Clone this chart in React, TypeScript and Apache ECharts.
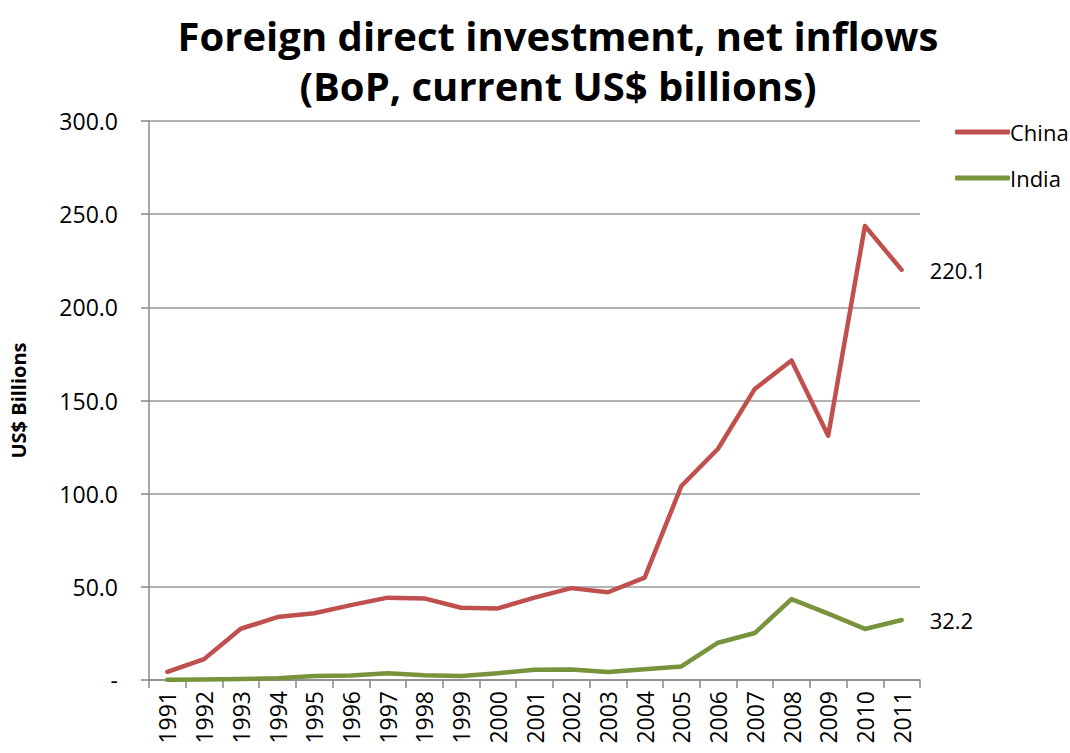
import React, { useEffect, useRef } from "react";
import * as echarts from "echarts";

const years = ["1991","1992","1993","1994","1995","1996","1997","1998","1999","2000","2001","2002","2003","2004","2005","2006","2007","2008","2009","2010","2011"];
const china = [4.4, 11.2, 27.5, 33.8, 35.8, 40.2, 44.2, 43.8, 38.8, 38.4, 44.2, 49.3, 47.1, 54.9, 104.1, 124.1, 156.2, 171.5, 131.1, 243.7, 220.1];
const india = [0.07, 0.28, 0.55, 0.97, 2.1, 2.4, 3.6, 2.6, 2.2, 3.6, 5.5, 5.6, 4.3, 5.8, 7.3, 20.0, 25.2, 43.4, 35.6, 27.4, 32.2];

const FONT = "'Open Sans', 'Liberation Sans', sans-serif";

const endLabel = {
  show: true,
  distance: 28,
  formatter: (p: any) => Number(p.value).toFixed(1),
  color: "#000",
  fontSize: 22,
  fontFamily: FONT,
};

export default function App() {
  const ref = useRef<HTMLDivElement>(null);
  useEffect(() => {
    const chart = echarts.init(ref.current!, undefined, { renderer: "svg" });
    chart.setOption({
      animation: false,
      backgroundColor: "#fff",
      title: {
        text: "Foreign direct investment, net inflows\n(BoP, current US$ billions)",
        left: 553,
        textAlign: "center",
        top: 5,
        textStyle: { fontFamily: FONT, fontWeight: "bold", fontSize: 40, lineHeight: 50, color: "#000" },
      },
      legend: {
        orient: "vertical",
        left: 950,
        top: 116,
        itemWidth: 55,
        itemHeight: 5,
        itemGap: 24,
        icon: "roundRect",
        textStyle: { fontFamily: FONT, fontSize: 22, color: "#000", padding: [0, 0, 0, -5] },
        data: ["China", "India"],
      },
      grid: { left: 143, right: 150, top: 121, bottom: 73, containLabel: false },
      xAxis: {
        type: "category",
        data: years,
        boundaryGap: true,
        axisLine: { lineStyle: { color: "#888", width: 1.5 } },
        axisTick: { show: true, alignWithLabel: false, length: 8, lineStyle: { color: "#888", width: 1.5 } },
        axisLabel: { rotate: 90, margin: 11, fontSize: 23, fontFamily: FONT, color: "#000", interval: 0 },
      },
      yAxis: {
        type: "value",
        min: 0,
        max: 300,
        interval: 50,
        name: "US$ Billions",
        nameLocation: "middle",
        nameGap: 121,
        nameRotate: 90,
        nameTextStyle: { fontFamily: FONT, fontWeight: "bold", fontSize: 20, color: "#000" },
        axisLine: { show: true, lineStyle: { color: "#888", width: 1.5 } },
        axisTick: { show: true, length: 8, lineStyle: { color: "#888", width: 1.5 } },
        axisLabel: {
          margin: 31,
          fontSize: 23,
          fontFamily: FONT,
          color: "#000",
          formatter: (v: number) => (v === 0 ? "-" : v.toFixed(1)),
        },
        splitLine: { lineStyle: { color: "#999", width: 1.5 } },
      },
      series: [
        {
          name: "China",
          type: "line",
          data: china,
          symbol: "none",
          endLabel,
          lineStyle: { color: "#C0504D", width: 4.5, cap: "round", join: "round" },
          itemStyle: { color: "#C0504D" },
        },
        {
          name: "India",
          type: "line",
          data: india,
          symbol: "none",
          endLabel,
          lineStyle: { color: "#77933C", width: 4.5, cap: "round", join: "round" },
          itemStyle: { color: "#77933C" },
        },
      ],
    });
    return () => chart.dispose();
  }, []);
  return <div ref={ref} style={{ width: 1070, height: 753, position: "absolute", left: 0, top: 0 }} />;
}
